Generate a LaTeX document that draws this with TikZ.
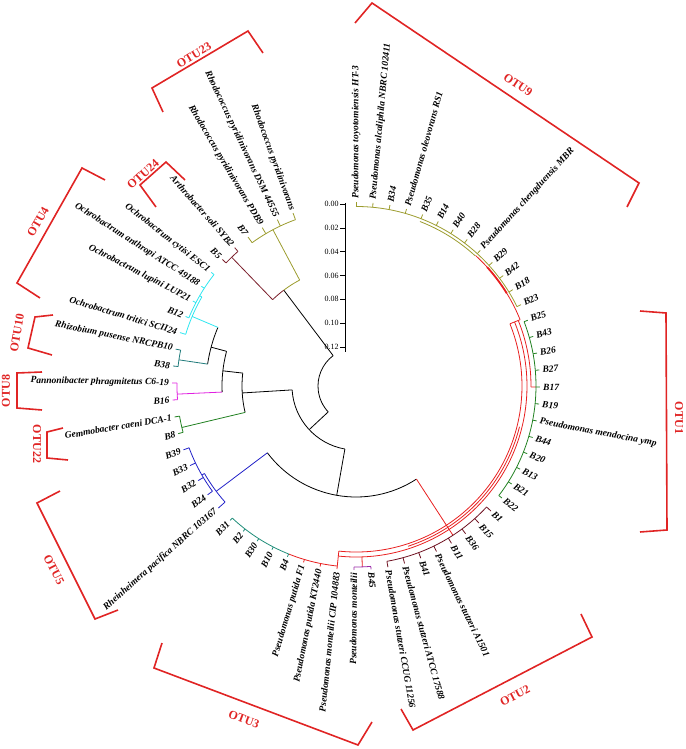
\documentclass[tikz,border=0pt]{standalone}
\usepackage{fontspec}
\setmainfont{Liberation Serif}
\definecolor{olv}{HTML}{9C9C2E}
\definecolor{maro}{HTML}{7A1E2A}
\definecolor{cya}{HTML}{2EE6F0}
\definecolor{tea}{HTML}{1E7A7A}
\definecolor{mag}{HTML}{E020E0}
\definecolor{grn}{HTML}{208020}
\definecolor{blu}{HTML}{2222C8}
\definecolor{teg}{HTML}{1E8C78}
\definecolor{psr}{HTML}{E82020}
\definecolor{dred}{HTML}{6E1020}
\definecolor{pur}{HTML}{9A2AA8}
\definecolor{otured}{HTML}{E02424}
% angle of leaf #1 (65 leaves, gap at the top left)
\newcommand{\la}[1]{90-#1*5.3125}

\begin{document}
\begin{tikzpicture}[
    x=1pt,y=1pt,
    tree/.style={line width=0.8pt},
    leaf/.style={font=\fontsize{9.5}{11}\selectfont\bfseries\itshape,inner sep=1pt},
    otu/.style={draw=otured,line width=1.6pt},
    otulabel/.style={text=otured,font=\fontsize{12}{14}\selectfont\bfseries,inner sep=1pt},
    scalelab/.style={font=\fontsize{8}{9}\selectfont,inner sep=1pt}
]
\useasboundingbox (-356,-363) rectangle (329,386);

% Root
\draw[tree] (127:38pt) arc[start angle=127,end angle=223,radius=38pt];
\draw[tree] (127:38pt) -- (127:120pt);

% Actinobacteria (OTU24, OTU23)
\draw[tree,maro] (127:120pt) arc[start angle=127,end angle=134,radius=120pt];
\draw[tree,olv] (127:120pt) arc[start angle=127,end angle=118,radius=120pt];
\draw[tree,maro] (134:120pt) -- (134:179pt);
\draw[tree,maro] ({\la{59}}:179pt) arc[start angle={\la{59}},end angle={\la{60}},radius=179pt];
\foreach \i in {59,60} \draw[tree,maro] ({\la{\i}}:179pt) -- ({\la{\i}}:184pt);
\draw[tree,olv] (118:120pt) -- (118:177pt);
\draw[tree,olv] ({\la{61}}:177pt) arc[start angle={\la{61}},end angle={\la{64}},radius=177pt];
\foreach \i in {61,...,64} \draw[tree,olv] ({\la{\i}}:177pt) -- ({\la{\i}}:184pt);

% Alphaproteobacteria (OTU22, OTU8, OTU10, OTU4)
\draw[tree] (223:38pt) -- (223:64pt);
\draw[tree] (183.5:64pt) arc[start angle=183.5,end angle=260,radius=64pt];
\draw[tree] (183.5:64pt) -- (183.5:114pt);
\draw[tree] (173.5:114pt) arc[start angle=173.5,end angle=193.4,radius=114pt];
\draw[tree,grn] (193.4:114pt) -- (193.4:179pt);
\draw[tree,grn] ({\la{48}}:179pt) arc[start angle={\la{48}},end angle={\la{49}},radius=179pt];
\foreach \i in {48,49} \draw[tree,grn] ({\la{\i}}:179pt) -- ({\la{\i}}:184pt);
\draw[tree] (173.5:114pt) -- (173.5:134pt);
\draw[tree] (165:134pt) arc[start angle=165,end angle=182.6,radius=134pt];
\draw[tree,mag] (182.6:134pt) -- (182.6:179pt);
\draw[tree,mag] ({\la{50}}:179pt) arc[start angle={\la{50}},end angle={\la{51}},radius=179pt];
\foreach \i in {50,51} \draw[tree,mag] ({\la{\i}}:179pt) -- ({\la{\i}}:184pt);
\draw[tree] (165:134pt) -- (165:150pt);
\draw[tree] (157:150pt) arc[start angle=157,end angle=171.6,radius=150pt];
\draw[tree,tea] (171.6:150pt) -- (171.6:179pt);
\draw[tree,tea] ({\la{52}}:179pt) arc[start angle={\la{52}},end angle={\la{53}},radius=179pt];
\foreach \i in {52,53} \draw[tree,tea] ({\la{\i}}:179pt) -- ({\la{\i}}:184pt);
\draw[tree,cya] (157:150pt) -- (157:178pt);
\draw[tree,cya] ({\la{54}}:178pt) arc[start angle={\la{54}},end angle=-210,radius=178pt];
\draw[tree,cya] (-210:178pt) -- (-210:180.5pt);
\draw[tree,cya] ({\la{55}}:180.5pt) arc[start angle={\la{55}},end angle={\la{58}},radius=180.5pt];
\draw[tree,cya] ({\la{54}}:178pt) -- ({\la{54}}:184pt);
\foreach \i in {55,...,58} \draw[tree,cya] ({\la{\i}}:180.5pt) -- ({\la{\i}}:184pt);

% Gammaproteobacteria (OTU5)
\draw[tree] (260:64pt) -- (260:111pt);
\draw[tree] (217:111pt) arc[start angle=217,end angle=303,radius=111pt];
\draw[tree,blu] (217:111pt) -- (217:175pt);
\draw[tree,blu] ({\la{43}}:175pt) arc[start angle={\la{43}},end angle=-150,radius=175pt];
\draw[tree,blu] (-150:175pt) -- (-150:178pt);
\draw[tree,blu] ({\la{44}}:178pt) arc[start angle={\la{44}},end angle={\la{47}},radius=178pt];
\draw[tree,blu] ({\la{43}}:175pt) -- ({\la{43}}:184pt);
\foreach \i in {44,...,47} \draw[tree,blu] ({\la{\i}}:178pt) -- ({\la{\i}}:184pt);

% Pseudomonas
\draw[tree,psr] (303:111pt) -- (303:178pt);
\draw[tree,psr] ({\la{35}}:166pt) arc[start angle={\la{35}},end angle=22,radius=166pt];
\draw[tree,psr] ({\la{35}}:171pt) arc[start angle={\la{35}},end angle=22,radius=171pt];
\draw[tree,psr] (-14:168.5pt) arc[start angle=-14,end angle=-72,radius=168.5pt];
\draw[tree,psr] (22:166pt) -- (22:175pt);
\draw[tree,psr] (22:175pt) arc[start angle=22,end angle={\la{17}},radius=175pt];
\draw[tree,psr] ({\la{17}}:175pt) -- ({\la{17}}:180pt);
\draw[tree,psr] (22:175pt) -- (22:177pt);
\draw[tree,psr] (22:177pt) arc[start angle=22,end angle={\la{8}},radius=177pt];
\draw[psr,line width=1.8pt] ({\la{9}}:177pt) arc[start angle={\la{9}},end angle={\la{11}},radius=177pt];
% OTU9
\draw[tree,olv] ({\la{0}}:179.5pt) arc[start angle={\la{0}},end angle={\la{12}},radius=179.5pt];
\draw[tree,olv] ({\la{4}}:176.5pt) arc[start angle={\la{4}},end angle={\la{8}},radius=176.5pt];
\foreach \i in {0,...,12} \draw[tree,olv] ({\la{\i}}:179.5pt) -- ({\la{\i}}:184pt);
% OTU1
\draw[tree,grn] ({\la{13}}:180pt) arc[start angle={\la{13}},end angle={\la{24}},radius=180pt];
\foreach \i in {13,...,24} \draw[tree,grn] ({\la{\i}}:180pt) -- ({\la{\i}}:184pt);
% OTU2
\draw[tree,dred] ({\la{25}}:178pt) arc[start angle={\la{25}},end angle={\la{32}},radius=178pt];
\foreach \i in {25,...,32} \draw[tree,dred] ({\la{\i}}:178pt) -- ({\la{\i}}:184pt);
% B45 and P. monteilii
\draw[tree,psr] (-88:171pt) -- (-88:181pt);
\draw[tree,pur] ({\la{33}}:181pt) arc[start angle={\la{33}},end angle={\la{34}},radius=181pt];
\foreach \i in {33,34} \draw[tree,pur] ({\la{\i}}:181pt) -- ({\la{\i}}:184pt);
% OTU3
\draw[tree,psr] ({\la{35}}:166pt) -- ({\la{35}}:181pt);
\draw[tree,psr] ({\la{35}}:181pt) arc[start angle={\la{35}},end angle={\la{38}},radius=181pt];
\draw[tree,teg] ({\la{38}}:181pt) arc[start angle={\la{38}},end angle={\la{42}},radius=181pt];
\foreach \i in {35,...,37} \draw[tree,psr] ({\la{\i}}:181pt) -- ({\la{\i}}:184pt);
\foreach \i in {38,...,42} \draw[tree,teg] ({\la{\i}}:181pt) -- ({\la{\i}}:184pt);

% Leaf labels
\foreach \i/\t in {0/{Pseudomonas toyotomiensis HT-3}, 1/{Pseudomonas alcaliphila NBRC 102411},
    2/B34, 3/{Pseudomonas oleovorans RS1}, 4/B35, 5/B14, 6/B40, 7/B28,
    8/{Pseudomonas chengduensis MBR}, 9/B29, 10/B42, 11/B18, 12/B23, 13/B25, 14/B43,
    15/B26, 16/B27, 17/B17, 18/B19, 19/{Pseudomonas mendocina ymp}, 20/B44, 21/B20,
    22/B13, 23/B21, 24/B22, 25/B1, 26/B15, 27/B36, 28/B11, 29/{Pseudomonas stutzeri A1501},
    30/B41, 31/{Pseudomonas stutzeri ATCC 17588}, 32/{Pseudomonas stutzeri CCUG 11256},
    33/B45, 34/{Pseudomonas monteilii}, 35/{Pseudomonas monteilii CIP 104883},
    36/{Pseudomonas putida KT2440}, 37/{Pseudomonas putida F1}, 38/B4, 39/B10, 40/B30,
    41/B2, 42/B31, 43/{Rheinheimera pacifica NBRC 103167}, 44/B24, 45/B32, 46/B33,
    47/B39, 48/B8, 49/{Gemmobacter caeni DCA-1}, 50/B16,
    51/{Pannonibacter phragmitetus C6-19}, 52/B38, 53/{Rhizobium pusense NRCPB10},
    54/{Ochrobactrum tritici SCII24}, 55/B12, 56/{Ochrobactrum lupini LUP21},
    57/{Ochrobactrum anthropi ATCC 49188}, 58/{Ochrobactrum cytisi ESC1}, 59/B5,
    60/{Arthrobacter soli SYB2}, 61/B7, 62/{Rhodococcus pyridinivorans PDB9},
    63/{Rhodococcus pyridinivorans DSM 44555}, 64/{Rhodococcus pyridinivorans}} {
    \pgfmathsetmacro{\a}{90-\i*5.3125}
    \pgfmathtruncatemacro{\lft}{\a<-90}
    \ifnum\lft=1
        \node[leaf,anchor=east,rotate=\a+180] (leaf\i) at (\a:186pt) {\t};
    \else
        \node[leaf,anchor=west,rotate=\a] (leaf\i) at (\a:186pt) {\t};
    \fi
}

% Scale bar
\draw[line width=0.6pt] (-11,183) -- (-11,34);
\foreach \k/\v in {0/0.00,1/0.02,2/0.04,3/0.06,4/0.08,5/0.10,6/0.12} {
    \draw[line width=0.6pt] (-11,{182-\k*23.83}) -- (-16,{182-\k*23.83}) node[scalelab,left] (sc\k) {\v};
}

% OTU brackets
\begin{scope}[shift={(-356pt,386pt)},x=1pt,y=-1pt]
\draw[otu] (163,112) -- (152,88) -- (248,31) -- (263,53);
\node[otulabel,rotate=31] (otu23) at (194,55) {OTU23};
\draw[otu] (355,23) -- (372,3) -- (639,183) -- (627,207);
\node[otulabel,rotate=-34] (otu9) at (518,85) {OTU9};
\draw[otu] (640,311) -- (666,313) -- (667,530) -- (640,532);
\node[otulabel,rotate=-90] (otu1) at (679,418) {OTU1};
\draw[otu] (581,614) -- (592,637) -- (413,730) -- (401,709);
\node[otulabel,rotate=27.5] (otu2) at (515,696) {OTU2};
\draw[otu] (162,643) -- (154,668) -- (358,745) -- (372,722);
\node[otulabel,rotate=-20.7] (otu3) at (244,719) {OTU3};
\draw[otu] (60,491) -- (37,503) -- (95,619) -- (118,610);
\node[otulabel,rotate=-63] (otu5) at (54,570) {OTU5};
\draw[otu] (63,428) -- (47,432) -- (47,458) -- (68,460);
\node[otulabel,rotate=-90] (otu22) at (37,444) {OTU22};
\draw[otu] (42,372) -- (17,373) -- (17,408) -- (42,410);
\node[otulabel,rotate=90] (otu8) at (6,391) {OTU8};
\draw[otu] (53,315) -- (35,317) -- (28,348) -- (52,355);
\node[otulabel,rotate=80] (otu10) at (17,333) {OTU10};
\draw[otu] (105,180) -- (82,168) -- (17,283) -- (40,298);
\node[otulabel,rotate=60] (otu4) at (38,222) {OTU4};
\draw[otu] (185,180) -- (166,162) -- (140,185) -- (156,207);
\node[otulabel,rotate=42] (otu24) at (143,174) {OTU24};
\end{scope}
\end{tikzpicture}
\end{document}
